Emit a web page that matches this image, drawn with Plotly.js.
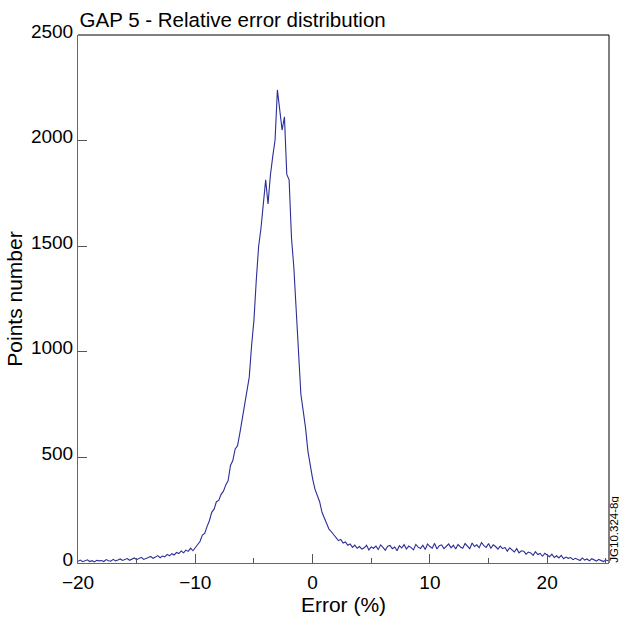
<!DOCTYPE html>
<html>
<head>
<meta charset="utf-8">
<script src="https://cdn.plot.ly/plotly-3.0.1.min.js"></script>
<style>html,body{margin:0;padding:0;background:#fff;}#chart{width:619px;height:619px;}</style>
</head>
<body>
<div id="chart"></div>
<script>
// Histogram of relative error (%), bins of 0.2 starting at -20
const binStart = -20;
const binWidth = 0.2;
const counts = [
  8,14,6,9,15,7,11,5,13,10,           // -20 .. -18
  12,7,16,11,9,17,10,14,19,12,        // -18 .. -16
  15,21,13,18,24,16,20,27,17,23,      // -16 .. -14
  26,31,22,28,35,25,33,29,41,34,      // -14 .. -12
  44,38,50,45,57,48,61,55,70,58,      // -12 .. -10
  74,90,102,132,140,172,200,240,255,290,       // -10 .. -8
  296,325,340,370,390,462,485,540,555,615,     // -8 .. -6
  680,760,810,880,1030,1150,1340,1500,1585,1690,   // -6 .. -4
  1814,1700,1835,1924,2003,2240,2145,2050,2113,1840, // -4 .. -2
  1814,1540,1400,1200,1000,800,720,640,530,460,   // -2 .. 0
  400,350,320,290,240,210,185,160,148,135,     // 0 .. 2
  118,106,112,95,100,84,90,74,85,70, // 2 .. 4
  78,66,72,84,62,76,70,80,64,86,     // 4 .. 6
  74,60,79,83,68,76,58,82,71,87,     // 6 .. 8
  66,80,73,62,88,75,69,84,64,90,     // 8 .. 10
  78,70,93,66,82,86,68,79,90,72,     // 10 .. 12
  84,66,88,76,70,92,80,68,95,78,     // 12 .. 14
  86,72,97,82,74,92,70,86,78,66,     // 14 .. 16
  80,68,74,56,72,60,52,68,48,58,     // 16 .. 18
  56,42,52,48,36,54,40,45,32,46,     // 18 .. 20
  38,30,42,26,34,24,36,20,28,22,     // 20 .. 22
  26,16,22,18,12,24,14,19,10,20,     // 22 .. 24
  15,9,17,12,7,14,11                 // 24 .. 25.2
];
const xTicks = [-20, -10, 0, 10, 20];
const xTickText = ['\u221220', '\u221210', '0', '10', '20'];
const yTicks = [0, 500, 1000, 1500, 2000, 2500];

const font = 'Liberation Sans, Arial, sans-serif';

const trace = {
  type: 'scatter',
  mode: 'lines',
  y: counts,
  x0: binStart,
  dx: binWidth,
  line: {color: '#2a2e97', width: 1.1},
  hoverinfo: 'x+y'
};

const layout = {
  width: 619,
  height: 619,
  margin: {l: 78, r: 10, t: 35, b: 56},
  paper_bgcolor: '#fff',
  plot_bgcolor: '#fff',
  showlegend: false,
  font: {family: font, size: 19, color: '#000'},
  title: {
    text: 'GAP 5 - Relative error distribution',
    font: {family: font, size: 20.5, color: '#000'},
    xref: 'paper', x: 0.003, xanchor: 'left',
    yref: 'container', y: 0.968, yanchor: 'middle'
  },
  xaxis: {
    range: [-20, 25.27],
    tickvals: xTicks,
    ticktext: xTickText,
    ticks: 'inside',
    ticklen: 9,
    tickwidth: 1,
    tickcolor: '#555',
    showgrid: false,
    zeroline: false,
    showline: true,
    linecolor: '#666',
    linewidth: 1,
    ticklabelstandoff: 2,
    minor: {dtick: 5, tick0: 0, ticks: 'inside', ticklen: 5, tickcolor: '#555', showgrid: false},
    tickfont: {family: font, size: 19, color: '#000'},
    title: {text: 'Error (%)', font: {family: font, size: 21, color: '#000'}, standoff: 2}
  },
  yaxis: {
    range: [0, 2500],
    tickvals: yTicks,
    ticks: 'inside',
    ticklen: 9,
    tickwidth: 1,
    tickcolor: '#555',
    showgrid: false,
    zeroline: false,
    showline: true,
    linecolor: '#666',
    linewidth: 1,
    ticklabelshift: -4,
    tickfont: {family: font, size: 19, color: '#000'},
    title: {text: 'Points number', font: {family: font, size: 21, color: '#000'}, standoff: 2}
  },
  shapes: [
    {type: 'line', xref: 'paper', yref: 'paper', x0: 0, x1: 1, y0: 1, y1: 1, line: {color: '#000', width: 1}},
    {type: 'line', xref: 'paper', yref: 'paper', x0: 1, x1: 1, y0: 0, y1: 1, line: {color: '#000', width: 1}}
  ],
  annotations: [
    {
      text: 'JG10.324-8g',
      xref: 'paper', yref: 'paper',
      x: 1.0094, y: 0.065,
      xanchor: 'center', yanchor: 'middle',
      textangle: -90,
      showarrow: false,
      font: {family: font, size: 11.5, color: '#000'}
    }
  ]
};

Plotly.newPlot('chart', [trace], layout, {staticPlot: true, displayModeBar: false});
</script>
</body>
</html>
